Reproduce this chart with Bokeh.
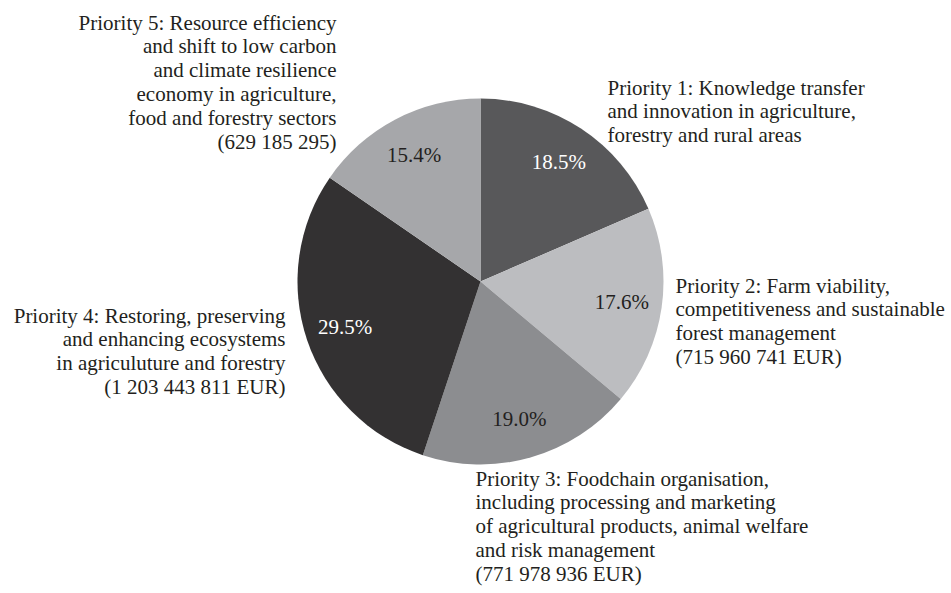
import math
from bokeh.plotting import figure
from bokeh.models import Range1d, ColumnDataSource
from bokeh.core.properties import value
from bokeh.embed import file_html
from bokeh.resources import INLINE

# ---------------- data ----------------
priorities = ["Priority 1", "Priority 2", "Priority 3", "Priority 4", "Priority 5"]
shares = [18.5, 17.6, 19.0, 29.5, 15.4]
pct_labels = ["18.5%", "17.6%", "19.0%", "29.5%", "15.4%"]
label_lines = [
    ["Priority 1: Knowledge transfer", "and innovation in agriculture,", "forestry and rural areas"],
    ["Priority 2: Farm viability,", "competitiveness and sustainable", "forest management", "(715 960 741 EUR)"],
    ["Priority 3: Foodchain organisation,", "including processing and marketing",
     "of agricultural products, animal welfare", "and risk management", "(771 978 936 EUR)"],
    ["Priority 4: Restoring, preserving", "and enhancing ecosystems",
     "in agriculuture and forestry", "(1 203 443 811 EUR)"],
    ["Priority 5: Resource efficiency", "and shift to low carbon", "and climate resilience",
     "economy in agriculture,", "food and forestry sectors", "(629 185 295)"],
]

# ---------------- style ----------------
slice_colors = ["#58585a", "#bcbdc0", "#8c8d90", "#333132", "#a6a7aa"]
pct_colors = ["#ffffff", "#231f20", "#231f20", "#ffffff", "#231f20"]
TEXT = "#231f20"
FONT = "Liberation Serif"
FS = "21px"
LH = 23.9

W, H = 951, 593
def sy(y):  # screen y -> data y
    return H - y

cx, cy, R = 480, sy(281), 183

p = figure(width=W, height=H, output_backend="svg", toolbar_location=None,
           x_range=Range1d(0, W), y_range=Range1d(0, H),
           min_border=0, outline_line_color=None)
p.axis.visible = False
p.grid.visible = False
p.background_fill_color = "white"
p.border_fill_color = "white"

total = sum(shares)
starts, ends, mids = [], [], []
cum = 0.0
for s in shares:
    a0 = math.pi / 2 - 2 * math.pi * cum / total
    cum += s
    a1 = math.pi / 2 - 2 * math.pi * cum / total
    starts.append(a0)
    ends.append(a1)
    mids.append((a0 + a1) / 2)

src = ColumnDataSource(dict(start=starts, end=ends, color=slice_colors))
p.wedge(x=cx, y=cy, radius=R, radius_units="screen", start_angle="start", end_angle="end",
        direction="clock", fill_color="color", line_color=None, source=src)

rf = 0.78 * R
psrc = ColumnDataSource(dict(
    x=[cx + rf * math.cos(m) for m in mids],
    y=[cy + rf * math.sin(m) for m in mids],
    t=pct_labels, c=pct_colors))
p.text(x="x", y="y", text="t", text_color="c", source=psrc, text_font=value(FONT),
       text_font_size=FS, text_align="center", text_baseline="middle")

# outer label anchors (screen coordinates of first line) and alignment
anchors = [(607, 87, "left"), (675, 285, "left"), (475, 478, "left"),
           (285, 315, "right"), (336, 22, "right")]
for lines, (ax, ay, al) in zip(label_lines, anchors):
    xs = [ax] * len(lines)
    ys = [sy(ay + i * LH) for i in range(len(lines))]
    p.text(x=xs, y=ys, text=lines, text_color=TEXT, text_font=value(FONT),
           text_font_size=FS, text_align=al, text_baseline="middle")

open("out.html", "w").write(file_html(p, INLINE))
